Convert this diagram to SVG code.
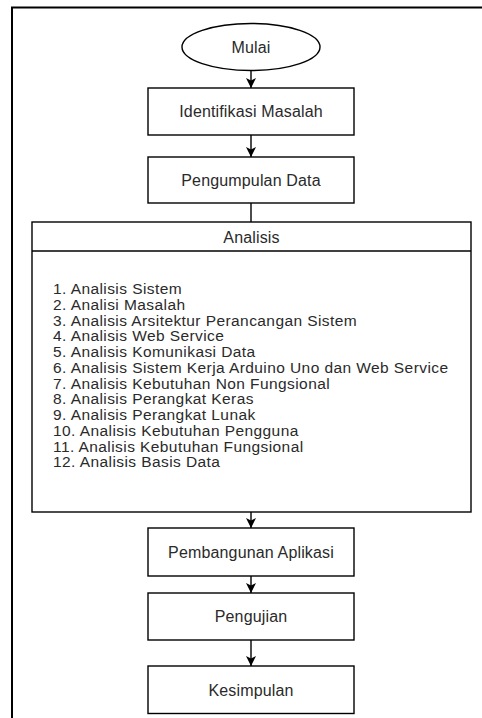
<svg xmlns="http://www.w3.org/2000/svg" width="482" height="718" viewBox="0 0 482 718">
  <defs>
    <marker id="arrow" viewBox="0 0 10 10" refX="10" refY="5" markerWidth="10" markerHeight="11" markerUnits="userSpaceOnUse" orient="auto">
      <path d="M0,0 L10,5 L0,10 L2.5,5 z" fill="#000"/>
    </marker>
    <style>
      .box { fill: #fff; stroke: #000; stroke-width: 1.4; }
      .edge { fill: none; stroke: #000; stroke-width: 1.4; }
      .label { font-family: "Liberation Sans", Arial, sans-serif; font-size: 16px; letter-spacing: 0.15px; fill: #2a2a2a; }
      .list { font-size: 15.5px; letter-spacing: 0.42px; }
      .center { text-anchor: middle; dominant-baseline: central; }
    </style>
  </defs>

  <rect width="482" height="718" fill="#fff"/>

  <!-- page frame: top and left edges only -->
  <path d="M12,718 V7.5 H482" fill="none" stroke="#000" stroke-width="2"/>

  <!-- connectors -->
  <g id="connectors">
    <line class="edge" x1="251" y1="71" x2="251" y2="88" marker-end="url(#arrow)"/>
    <line class="edge" x1="251" y1="135" x2="251" y2="157" marker-end="url(#arrow)"/>
    <line class="edge" x1="251" y1="203" x2="251" y2="222"/>
    <line class="edge" x1="251" y1="512" x2="251" y2="528" marker-end="url(#arrow)"/>
    <line class="edge" x1="251" y1="576" x2="251" y2="593" marker-end="url(#arrow)"/>
    <line class="edge" x1="251" y1="640" x2="251" y2="666" marker-end="url(#arrow)"/>
  </g>

  <g id="mulai">
    <ellipse class="box" cx="251" cy="47" rx="69" ry="23.5"/>
    <text class="label center" x="251" y="47">Mulai</text>
  </g>

  <g id="identifikasi">
    <rect class="box" x="148" y="88" width="206" height="47"/>
    <text class="label center" x="251" y="111.5">Identifikasi Masalah</text>
  </g>

  <g id="pengumpulan">
    <rect class="box" x="148" y="157" width="206" height="46"/>
    <text class="label center" x="251" y="180">Pengumpulan Data</text>
  </g>

  <g id="analisis">
    <rect class="box" x="32" y="222" width="439" height="290"/>
    <line class="edge" x1="32" y1="251" x2="471" y2="251"/>
    <text class="label center" x="251.5" y="237">Analisis</text>
    <text class="label list" x="53">
      <tspan x="53" y="294">1. Analisis Sistem</tspan>
      <tspan x="53" y="309.75">2. Analisi Masalah</tspan>
      <tspan x="53" y="325.5">3. Analisis Arsitektur Perancangan Sistem</tspan>
      <tspan x="53" y="341.25">4. Analisis Web Service</tspan>
      <tspan x="53" y="357">5. Analisis Komunikasi Data</tspan>
      <tspan x="53" y="372.75">6. Analisis Sistem Kerja Arduino Uno dan Web Service</tspan>
      <tspan x="53" y="388.5">7. Analisis Kebutuhan Non Fungsional</tspan>
      <tspan x="53" y="404.25">8. Analisis Perangkat Keras</tspan>
      <tspan x="53" y="420">9. Analisis Perangkat Lunak</tspan>
      <tspan x="53" y="435.75">10. Analisis Kebutuhan Pengguna</tspan>
      <tspan x="53" y="451.5">11. Analisis Kebutuhan Fungsional</tspan>
      <tspan x="53" y="467.25">12. Analisis Basis Data</tspan>
    </text>
  </g>

  <g id="pembangunan">
    <rect class="box" x="148" y="528" width="206" height="48"/>
    <text class="label center" x="251" y="552">Pembangunan Aplikasi</text>
  </g>

  <g id="pengujian">
    <rect class="box" x="148" y="593" width="206" height="47"/>
    <text class="label center" x="251" y="616.5">Pengujian</text>
  </g>

  <g id="kesimpulan">
    <rect class="box" x="148" y="666" width="206" height="47.5"/>
    <text class="label center" x="251" y="690">Kesimpulan</text>
  </g>
</svg>
